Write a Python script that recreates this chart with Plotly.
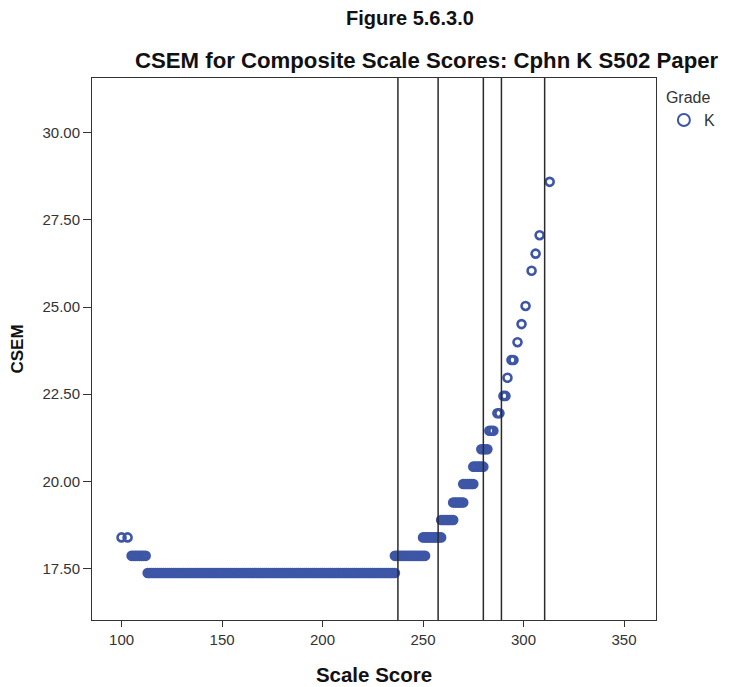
import plotly.graph_objects as go

# ---- data ----
# Each CSEM level with the scale scores plotted at that level
csem_levels = [18.39, 17.86, 17.37, 17.86, 18.39, 18.89, 19.39, 19.92, 20.42,
               20.92, 21.45, 21.95, 22.45, 22.97, 23.48, 23.99, 24.51, 25.03,
               26.04, 26.53, 27.06, 28.59]
scores_by_level = [
    [100, 103],
    [105, 106, 107, 108, 109, 110, 111, 112],
    [113, 114, 115, 116, 117, 118, 119, 120, 121, 122, 123, 124, 125, 126, 127,
     128, 129, 130, 131, 132, 133, 134, 135, 136, 137, 138, 139, 140, 141, 142,
     143, 144, 145, 146, 147, 148, 149, 150, 151, 152, 153, 154, 155, 156, 157,
     158, 159, 160, 161, 162, 163, 164, 165, 166, 167, 168, 169, 170, 171, 172,
     173, 174, 175, 176, 177, 178, 179, 180, 181, 182, 183, 184, 185, 186, 187,
     188, 189, 190, 191, 192, 193, 194, 195, 196, 197, 198, 199, 200, 201, 202,
     203, 204, 205, 206, 207, 208, 209, 210, 211, 212, 213, 214, 215, 216, 217,
     218, 219, 220, 221, 222, 223, 224, 225, 226, 227, 228, 229, 230, 231, 232,
     233, 234, 235, 236],
    [236, 237, 238, 239, 240, 241, 242, 243, 244, 245, 246, 247, 248, 249, 250, 251],
    [250, 251, 252, 253, 254, 255, 256, 257, 258, 259],
    [259, 260, 261, 262, 263, 264, 265],
    [265, 266, 267, 268, 269, 270],
    [270, 271, 272, 273, 274, 275],
    [275, 276, 277, 278, 279, 280],
    [279, 280, 281, 282],
    [283, 284, 285],
    [287, 288],
    [290, 291],
    [292],
    [294, 295],
    [297],
    [299],
    [301],
    [304],
    [306],
    [308],
    [313],
]
cut_scores = [237.5, 257.5, 280, 289, 310.5]
x_ticks = [100, 150, 200, 250, 300, 350]
y_ticks = [17.5, 20.0, 22.5, 25.0, 27.5, 30.0]

# ---- flatten into point lists ----
scale_score = []
csem = []
for lvl, scores in zip(csem_levels, scores_by_level):
    for s in scores:
        scale_score.append(s)
        csem.append(lvl)

BLUE = "#3D56A6"
FONT = "Liberation Sans, Arial, sans-serif"

fig = go.Figure()
fig.add_trace(go.Scatter(
    x=scale_score, y=csem, mode="markers", name="K",
    marker=dict(symbol="circle-open", size=8, color=BLUE, line=dict(width=2.6, color=BLUE)),
))

for c in cut_scores:
    fig.add_shape(type="line", xref="x", yref="paper", x0=c, x1=c, y0=0, y1=1,
                  line=dict(color="#2a2a2a", width=1.5))

fig.update_layout(
    width=736, height=687,
    margin=dict(l=84, r=88, t=70, b=75),
    paper_bgcolor="white", plot_bgcolor="white",
    font=dict(family=FONT, color="#222222"),
    showlegend=True,
    legend=dict(
        title=dict(text="Grade", font=dict(size=16, color="#333333")),
        x=1.014, y=0.992, xanchor="left", yanchor="top",
        font=dict(size=16, color="#333333"),
        itemsizing="constant", itemwidth=30, bgcolor="rgba(0,0,0,0)",
        tracegroupgap=0,
    ),
    annotations=[
        dict(text="<b>Figure 5.6.3.0</b>", xref="paper", yref="paper",
             x=(410 - 92) / 564, y=1 + (78 - 18) / 542, xanchor="center", yanchor="middle",
             showarrow=False, font=dict(size=20, color="#111111", family=FONT)),
        dict(text="<b>CSEM for Composite Scale Scores: Cphn K S502 Paper</b>", xref="paper", yref="paper",
             x=(133 - 92) / 564, y=1 + (78 - 60) / 542, xanchor="left", yanchor="middle",
             showarrow=False, font=dict(size=22.2, color="#111111", family=FONT)),
    ],
)

fig.update_xaxes(
    range=[85.3, 365.9], tickvals=x_ticks, ticks="outside", ticklen=6, tickwidth=1,
    tickcolor="#333333", showline=True, linecolor="#333333", linewidth=1, mirror=True,
    showgrid=False, zeroline=False, tickfont=dict(size=15, color="#333333"),
    automargin=False,
    title=dict(text="<b>Scale Score</b>", font=dict(size=20.5, color="#111111"), standoff=20),
)
fig.update_yaxes(
    range=[16.02, 31.57], tickvals=y_ticks, tickformat=".2f", ticks="outside", ticklen=8,
    tickwidth=1, tickcolor="#333333", showline=True, linecolor="#333333", linewidth=1,
    mirror=True, showgrid=False, zeroline=False, tickfont=dict(size=15, color="#333333"),
    automargin=False,
    title=dict(text="<b>CSEM</b>", font=dict(size=17, color="#111111"), standoff=18),
)

fig.write_html("out.html")
